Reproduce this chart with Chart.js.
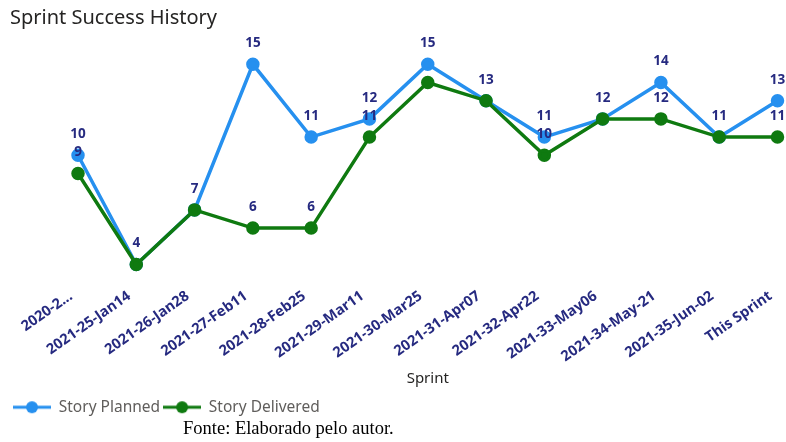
<!DOCTYPE html>
<html>
<head>
<meta charset="utf-8">
<script src="https://cdn.jsdelivr.net/npm/chart.js@4"></script>
<style>
  body { margin: 0; background: #fff; }
  #wrap { position: relative; width: 786px; height: 442px; }
  #source { position: absolute; left: 183px; top: 418px; font-family: "Liberation Serif", serif; font-size: 18.5px; color: #000; }
</style>
</head>
<body>
<div id="wrap">
  <canvas id="sprintChart" width="786" height="442"></canvas>
  <div id="source">Fonte: Elaborado pelo autor.</div>
</div>
<script>
const sprints = [
  '2020-2...', '2021-25-Jan14', '2021-26-Jan28', '2021-27-Feb11', '2021-28-Feb25',
  '2021-29-Mar11', '2021-30-Mar25', '2021-31-Apr07', '2021-32-Apr22', '2021-33-May06',
  '2021-34-May-21', '2021-35-Jun-02', 'This Sprint'
];
const storyPlanned = [10, 4, 7, 15, 11, 12, 15, 13, 11, 12, 14, 11, 13];
const storyDelivered = [9, 4, 7, 6, 6, 11, 14, 13, 10, 12, 12, 11, 11];
// delivered labels that Power BI dropped because they collide
const hiddenDeliveredLabels = [6];

const BLUE = '#2690ef';
const GREEN = '#0f7a10';
const NAVY = '#262a80';

function legendMarker(color) {
  const c = document.createElement('canvas');
  c.width = 38; c.height = 14;
  const g = c.getContext('2d');
  g.strokeStyle = color; g.lineWidth = 3;
  g.beginPath(); g.moveTo(0, 7); g.lineTo(38, 7); g.stroke();
  g.fillStyle = color;
  g.beginPath(); g.arc(19, 7, 6, 0, Math.PI * 2); g.fill();
  return c;
}

const valueLabels = {
  id: 'valueLabels',
  afterDatasetsDraw(chart) {
    const ctx = chart.ctx;
    ctx.save();
    ctx.font = 'bold 13.5px "Open Sans"';
    ctx.fillStyle = NAVY;
    ctx.textAlign = 'center';
    ctx.textBaseline = 'middle';
    chart.data.datasets.forEach((ds, di) => {
      const meta = chart.getDatasetMeta(di);
      meta.data.forEach((pt, i) => {
        if (di === 1 && (ds.data[i] === storyPlanned[i] || hiddenDeliveredLabels.includes(i))) return;
        ctx.fillText(ds.data[i], pt.x, pt.y - 21);
      });
    });
    ctx.restore();
  }
};

new Chart(document.getElementById('sprintChart'), {
  type: 'line',
  data: {
    labels: sprints,
    datasets: [{
      label: 'Story Planned',
      data: storyPlanned,
      borderColor: BLUE,
      backgroundColor: BLUE,
      borderWidth: 3.5,
      pointRadius: 5,
      order: 1
    }, {
      label: 'Story Delivered',
      data: storyDelivered,
      borderColor: GREEN,
      backgroundColor: GREEN,
      borderWidth: 3.5,
      pointRadius: 5,
      order: 0
    }]
  },
  options: {
    responsive: false,
    animation: false,
    layout: { padding: { left: 10, bottom: 17 } },
    plugins: {
      tooltip: { enabled: false },
      title: {
        display: true,
        text: 'Sprint Success History',
        align: 'start',
        color: '#252423',
        font: { family: '"Noto Sans"', size: 20, weight: 'normal' },
        padding: { top: 6, bottom: 15 }
      },
      legend: {
        position: 'bottom',
        align: 'start',
        labels: {
          color: '#605e5c',
          font: { family: '"Noto Sans"', size: 15.5 },
          padding: 3,
          usePointStyle: true,
          pointStyleWidth: 38,
          generateLabels: () => [
            { text: 'Story Planned', pointStyle: legendMarker(BLUE), fillStyle: BLUE, strokeStyle: BLUE, lineWidth: 0, datasetIndex: 0, fontColor: '#605e5c' },
            { text: 'Story Delivered', pointStyle: legendMarker(GREEN), fillStyle: GREEN, strokeStyle: GREEN, lineWidth: 0, datasetIndex: 1, fontColor: '#605e5c' }
          ]
        }
      }
    },
    scales: {
      x: {
        offset: false,
        grid: { display: false, drawTicks: false },
        border: { display: false },
        ticks: {
          color: NAVY,
          font: { family: '"Open Sans"', size: 14.5, weight: 'bold' },
          autoSkip: false,
          minRotation: 35,
          maxRotation: 35,
          padding: 15,
          labelOffset: -7
        },
        title: {
          display: true,
          text: 'Sprint',
          color: '#252423',
          font: { family: '"Noto Sans"', size: 15 },
          padding: { top: 16, bottom: 9 }
        },
        afterFit: s => { s.paddingLeft = 78; s.paddingRight = 5; s.height = 124; }
      },
      y: {
        display: false,
        min: 3.56,
        max: 16.06
      }
    }
  },
  plugins: [valueLabels]
});
</script>
</body>
</html>
